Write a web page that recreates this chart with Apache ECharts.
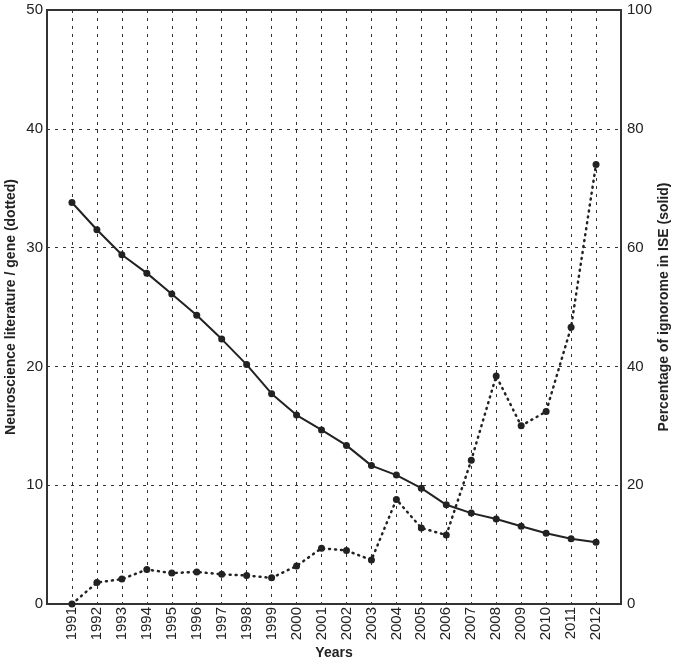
<!DOCTYPE html>
<html>
<head>
<meta charset="utf-8">
<style>
  html, body { margin: 0; padding: 0; background: #fff; }
  #main { width: 675px; height: 664px; }
</style>
<script src="https://cdn.jsdelivr.net/npm/echarts@6/dist/echarts.min.js"></script>
</head>
<body>
<div id="main"></div>
<script>
// years on the x axis
var years = [1991, 1992, 1993, 1994, 1995, 1996, 1997, 1998, 1999, 2000, 2001,
             2002, 2003, 2004, 2005, 2006, 2007, 2008, 2009, 2010, 2011, 2012];

// dotted: neuroscience literature per gene (left axis)
var litPerGene = [0, 1.8, 2.1, 2.9, 2.6, 2.7, 2.5, 2.4, 2.2, 3.2, 4.7,
                  4.5, 3.7, 8.8, 6.4, 5.8, 12.1, 19.2, 15.0, 16.2, 23.3, 37.0];

// solid: percentage of ignorome in ISE (right axis)
var ignoromePct = [67.6, 63.0, 58.8, 55.7, 52.2, 48.6, 44.6, 40.3, 35.4, 31.8, 29.3,
                   26.7, 23.3, 21.7, 19.5, 16.7, 15.3, 14.3, 13.1, 11.9, 11.0, 10.4];

var fontFam = '"Liberation Sans", Arial, Helvetica, sans-serif';
var ink = '#222';

var myChart = echarts.init(document.getElementById('main'));

function pairs(vals) {
    return years.map(function (y, i) { return [y, vals[i]]; });
}

var gridDash = {color: '#333', width: 1, type: [3, 5]};

var option = {
    animation: false,
    backgroundColor: '#fff',
    grid: {
        left: 47, right: 54, top: 10, bottom: 60,
        outerBoundsMode: 'none',
        containLabel: false,
        show: true, borderColor: '#333', borderWidth: 2
    },
    xAxis: {
        type: 'value',
        min: 1990, max: 2013, interval: 1,
        name: 'Years',
        nameLocation: 'middle',
        nameGap: 42,
        nameMoveOverlap: false,
        nameTextStyle: {fontFamily: fontFam, fontWeight: 'bold', fontSize: 14, color: ink},
        axisLine: {show: false},
        axisTick: {show: false},
        axisLabel: {
            rotate: 90, margin: 3,
            fontFamily: fontFam, fontSize: 15, color: ink,
            formatter: function (v) {
                return (v < years[0] || v > years[years.length - 1]) ? '' : String(v);
            }
        },
        splitLine: {show: true, lineStyle: gridDash}
    },
    yAxis: [
        {
            type: 'value', position: 'left',
            min: 0, max: 50, interval: 10,
            name: 'Neuroscience literature / gene (dotted)',
            nameLocation: 'middle', nameRotate: 90, nameGap: 29,
            nameMoveOverlap: false,
            nameTextStyle: {fontFamily: fontFam, fontWeight: 'bold', fontSize: 14, color: ink},
            axisLine: {show: false},
            axisTick: {show: false},
            axisLabel: {margin: 4, fontFamily: fontFam, fontSize: 15, color: ink},
            splitLine: {show: true, lineStyle: gridDash}
        },
        {
            type: 'value', position: 'right',
            min: 0, max: 100, interval: 20,
            name: 'Percentage of ignorome in ISE (solid)',
            nameLocation: 'middle', nameRotate: 90, nameGap: 36,
            nameMoveOverlap: false,
            nameTextStyle: {fontFamily: fontFam, fontWeight: 'bold', fontSize: 14, color: ink},
            axisLine: {show: false},
            axisTick: {show: false},
            axisLabel: {margin: 6, fontFamily: fontFam, fontSize: 15, color: ink},
            splitLine: {show: false}
        }
    ],
    series: [
        {
            type: 'line',
            yAxisIndex: 0,
            data: pairs(litPerGene),
            symbol: 'circle', symbolSize: 7,
            itemStyle: {color: ink},
            lineStyle: {color: ink, width: 2.5, type: [1, 5], cap: 'round'}
        },
        {
            type: 'line',
            yAxisIndex: 1,
            data: pairs(ignoromePct),
            symbol: 'circle', symbolSize: 7,
            itemStyle: {color: ink},
            lineStyle: {color: ink, width: 2}
        }
    ]
};

myChart.setOption(option);
</script>
</body>
</html>
